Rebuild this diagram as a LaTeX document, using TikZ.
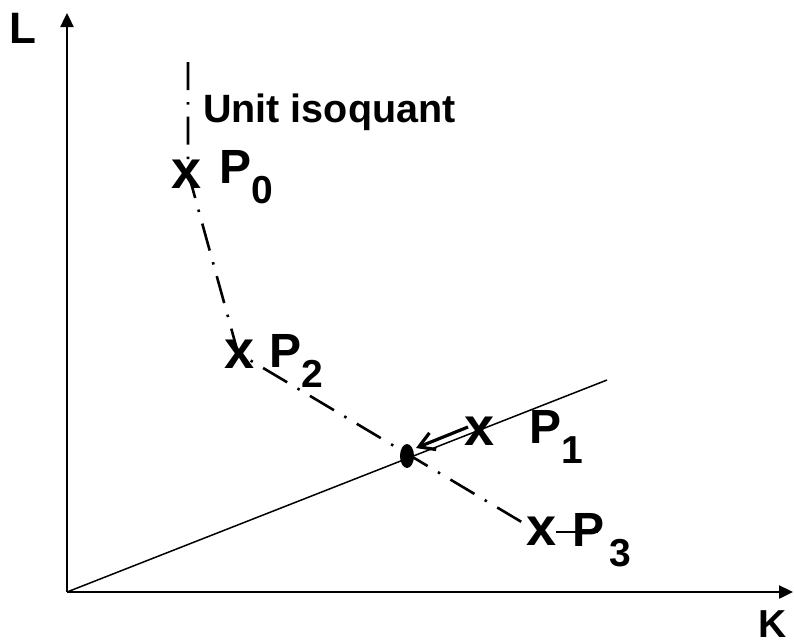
\documentclass[tikz,border=0pt]{standalone}
\usepackage{fontspec}
\setmainfont{Liberation Sans}[BoldFont={Liberation Sans Bold}]
\usetikzlibrary{arrows.meta}
\newcommand{\Plab}[1]{P\raisebox{-20pt}{\fontsize{39}{39}\selectfont #1}}
\begin{document}
\begin{tikzpicture}[x=1pt,y=-1pt,
  lbl/.style={inner sep=0pt,font=\fontsize{48}{48}\selectfont\bfseries,anchor=base west},
  xmark/.style={inner sep=0pt,font=\fontsize{54}{54}\selectfont\bfseries},
  axis/.style={line width=2.4pt,-{Triangle[length=14pt,width=13pt]}},
  iso/.style={line width=2.6pt,dash pattern=on 28pt off 12pt on 2.5pt off 12pt}]
\useasboundingbox (0,0) rectangle (794,643);
\coordinate (O) at (67,592);
\coordinate (Ytip) at (67,13);
\coordinate (Xtip) at (793,592);
\coordinate (R) at (607,380);
\draw[axis] (O) -- (Ytip);
\draw[axis] (O) -- (Xtip);
\draw[line width=1.5pt] (O) -- (R);
% isoquant
\coordinate (top) at (188,62);
\coordinate (a0) at (188,172);
\coordinate (a2) at (238,353);
\coordinate (a3) at (530,527);
\draw[iso] (top) -- (a0) -- (a2) -- (a3);
% x marks
\node[xmark] (x0) at (187,174) {x};
\node[xmark] (x2) at (240,354) {x};
\node[xmark] (x1) at (480,431) {x};
\node[xmark] (x3) at (542,531) {x};
% dot
\fill (407,456) ellipse [x radius=7pt, y radius=12pt];
\node[inner sep=0pt] (dot) at (407,456) {};
% labels
\node[lbl] (P0) at (219,183) {\Plab{0}};
\node[lbl] (P2) at (269,367) {\Plab{2}};
\node[lbl] (P1) at (529,443) {\Plab{1}};
\node[lbl] (P3) at (572,546) {\Plab{\kern5pt3}};
\node[inner sep=0pt,font=\fontsize{39.5}{39.5}\selectfont\bfseries,anchor=base west] (unit) at (203,122) {Unit isoquant};
\node[lbl,font=\fontsize{44}{44}\selectfont\bfseries] (L) at (9,43) {L};
\node[lbl,font=\fontsize{39}{39}\selectfont\bfseries] (K) at (758,637) {K};
% arrow P1 -> dot
\coordinate (s1) at (468,427);
\coordinate (e1) at (416,448);
\draw[line width=3.2pt,-{Straight Barb[length=15pt,width=18pt]}] (s1) -- (e1);
% P3 line
\coordinate (s3) at (556,532);
\coordinate (e3) at (598,532);
\draw[line width=2pt] (s3) -- (e3);
\end{tikzpicture}
\end{document}
